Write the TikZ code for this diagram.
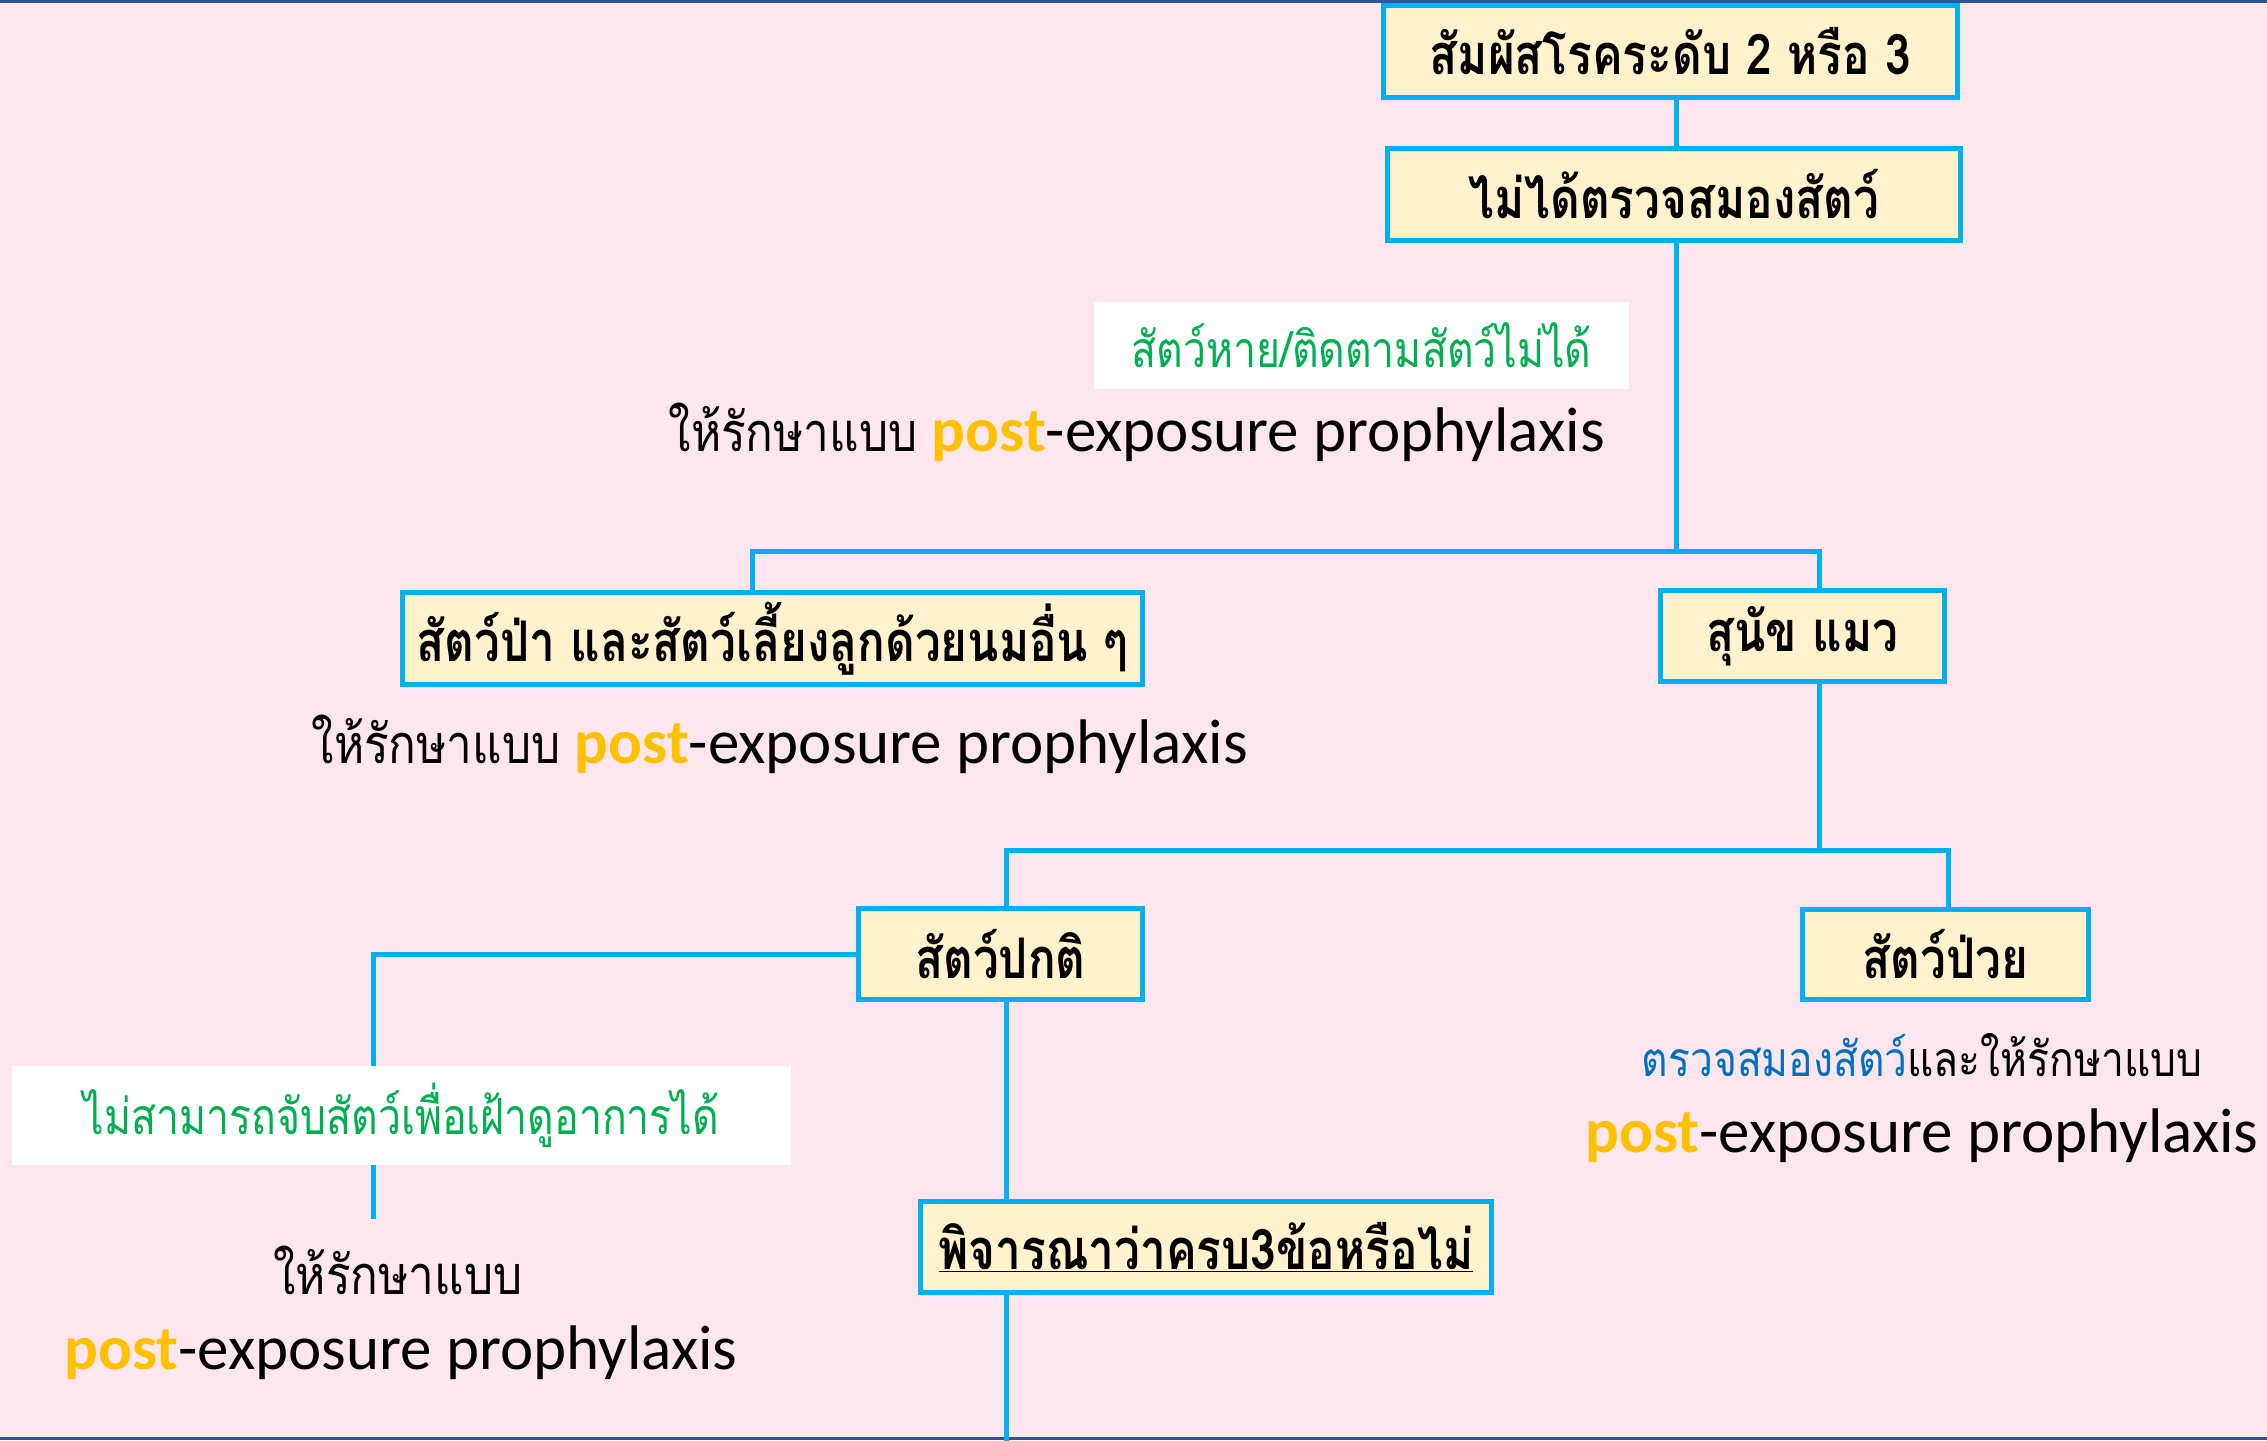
\documentclass[tikz,border=0pt]{standalone}
\usepackage{fontspec}
\setmainfont{Carlito}
\newfontfamily\thai[Script=Thai]{Loma}
\newfontfamily\thainar[Script=Thai, FakeStretch=0.82]{Loma}
\newfontfamily\thaibody[Script=Thai, FakeStretch=0.85]{Loma}
\usetikzlibrary{calc}
\definecolor{bgpink}{HTML}{FDE6EE}
\definecolor{boxy}{HTML}{FFF2CC}
\definecolor{cyanb}{HTML}{00B0F0}
\definecolor{greenc}{HTML}{00B050}
\definecolor{bluec}{HTML}{0070C0}
\definecolor{goldc}{HTML}{FFC000}
\definecolor{framec}{HTML}{2F5597}
\newcommand{\postword}{{\bfseries\color{goldc}post}}
\newcommand{\thaitreat}{{\thaibody\fontsize{54}{58}\selectfont ให้รักษาแบบ}}
\begin{document}
\begin{tikzpicture}[x=1pt,y=-1pt,
  box/.style={draw=cyanb, line width=5pt, fill=boxy, inner sep=0pt, align=center,
    font=\thainar\bfseries\fontsize{56}{60}\selectfont},
  conn/.style={draw=cyanb, line width=5pt},
  wbox/.style={fill=white, inner sep=0pt, text=greenc, align=center,
    font=\thainar\fontsize{50}{54}\selectfont},
  body/.style={inner sep=0pt, font=\fontsize{63}{70}\selectfont},
  thbody/.style={inner sep=0pt, font=\thaibody\fontsize{54}{58}\selectfont}]
\fill[bgpink] (0,0) rectangle (2267,1440);
\useasboundingbox (0,0) rectangle (2267,1440);
\fill[framec] (0,0) rectangle (2267,2.5);
\fill[framec] (0,1437) rectangle (2267,1440);

% boxes
\node[box, minimum width=574pt, minimum height=92pt] (b1) at (1670.5,51.5) {สัมผัสโรคระดับ 2 หรือ 3};
\node[box, minimum width=573pt, minimum height=92pt] (b2) at (1674,194.5) {ไม่ได้ตรวจสมองสัตว์};
\node[box, minimum width=740pt, minimum height=92pt] (b3) at (772.5,638.5) {สัตว์ป่า และสัตว์เลี้ยงลูกด้วยนมอื่น ๆ};
\node[box, minimum width=284pt, minimum height=91pt] (b4) at (1802.5,636) {สุนัข แมว};
\node[box, minimum width=284pt, minimum height=91pt] (b5) at (1000.5,954) {สัตว์ปกติ};
\node[box, minimum width=286pt, minimum height=90pt] (b6) at (1945.5,954.5) {สัตว์ป่วย};
\node[box, minimum width=571pt, minimum height=91pt] (b7) at (1206,1247) {\underline{พิจารณาว่าครบ3ข้อหรือไม่}};

% junction coordinates
\coordinate (j1) at (1676,551);
\coordinate (j1l) at (752,551);
\coordinate (j1r) at (1819,551);
\coordinate (j2l) at (1006,850);
\coordinate (j2r) at (1948,850);
\coordinate (j3b) at (373,1219);
\coordinate (bot) at (1006,1442);

% connectors
\draw[conn] (b1.south -| j1) -- (b2.north -| j1);
\draw[conn] (b2.south -| j1) -- (j1);
\draw[conn] (b3.north -| j1l) |- (j1r) -- (b4.north -| j1r);
\draw[conn] (b4.south -| j1r) -- (j1r |- j2l);
\draw[conn] (b5.north -| j2l) |- (j2r) -- (b6.north -| j2r);
\draw[conn] (b5.west) -| (j3b);
\draw[conn] (b5.south -| j2l) -- (b7.north -| j2l);
\draw[conn] (b7.south -| j2l) -- (bot);

% white label boxes
\node[wbox, minimum width=535pt, minimum height=87pt] (w1) at (1361.5,345.5) {สัตว์หาย/ติดตามสัตว์ไม่ได้};
\node[wbox, minimum width=779pt, minimum height=99pt] (w2) at (401.5,1115.5) {ไม่สามารถจับสัตว์เพื่อเฝ้าดูอาการได้};

% body texts
\node[body, anchor=base east] (t1) at (1605,451) {\thaitreat{} \postword-exposure prophylaxis};
\node[body, anchor=base east] (t2) at (1248,763) {\thaitreat{} \postword-exposure prophylaxis};
\node[thbody, anchor=base, font=\thaibody\fontsize{48}{52}\selectfont] (t3a) at (1922,1076) {{\color{bluec}ตรวจสมองสัตว์}และให้รักษาแบบ};
\node[body, anchor=base] (t3b) at (1922,1152) {\postword-exposure prophylaxis};
\node[thbody, anchor=base] (t4a) at (398,1294) {ให้รักษาแบบ};
\node[body, anchor=base] (t4b) at (401,1369) {\postword-exposure prophylaxis};
\end{tikzpicture}
\end{document}
